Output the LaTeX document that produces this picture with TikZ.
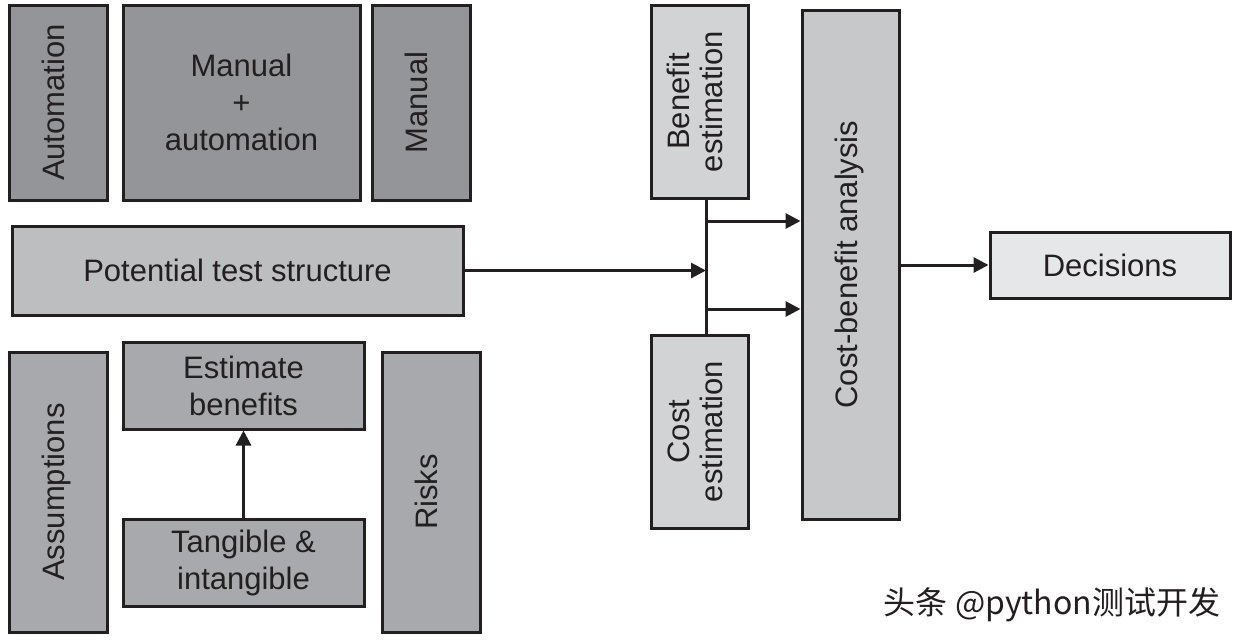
\documentclass[tikz,border=0pt]{standalone}
\usepackage{fontspec}
\setmainfont{Liberation Sans}
\newfontfamily\cjk{Noto Sans CJK SC}
\usetikzlibrary{arrows.meta}

\definecolor{edge}{HTML}{231F20}
\definecolor{topgray}{HTML}{939598}
\definecolor{lowgray}{HTML}{A7A9AC}
\definecolor{midgray}{HTML}{BCBEC0}
\definecolor{estgray}{HTML}{D1D3D4}
\definecolor{cbagray}{HTML}{C7C8CA}
\definecolor{decgray}{HTML}{E6E7E8}

\newcommand{\uptext}[1]{\rotatebox{90}{\renewcommand\arraystretch{0.9}\begin{tabular}{@{}c@{}}#1\end{tabular}}}

\tikzset{
  box/.style={draw=edge, line width=1.5pt, inner sep=0pt, align=center,
    font=\fontsize{15.5}{18.5}\selectfont, text=edge},
  wire/.style={draw=edge, line width=1.5pt},
  link/.style={wire, -{Triangle[length=7.5pt,width=7.5pt]}},
}

\begin{document}
\begin{tikzpicture}[x=0.5pt, y=-0.5pt]
  \useasboundingbox (0,0) rectangle (1240,639);

  % test approach
  \node[box, fill=topgray, minimum width=49pt, minimum height=97.5pt] (automation) at (58,102.5) {\uptext{Automation}};
  \node[box, fill=topgray, minimum width=118.5pt, minimum height=97.5pt] (mixed) at (241.5,102.5) {Manual\\+\\automation};
  \node[box, fill=topgray, minimum width=49pt, minimum height=97.5pt] (manual) at (421,102.5) {\uptext{Manual}};

  \node[box, fill=midgray, minimum width=225.5pt, minimum height=44.5pt] (potential) at (237.5,270.5) {Potential test structure};

  % inputs
  \node[box, fill=lowgray, minimum width=49pt, minimum height=140pt] (assumptions) at (58,492) {\uptext{Assumptions}};
  \node[box, fill=lowgray, minimum width=120.5pt, minimum height=43.5pt] (estimate) at (243.5,385.5) {Estimate\\benefits};
  \node[box, fill=lowgray, minimum width=120.5pt, minimum height=43.5pt] (tangible) at (243.5,562.5) {Tangible \&\\intangible};
  \node[box, fill=lowgray, minimum width=49pt, minimum height=140pt] (risks) at (431,492) {\uptext{Risks}};

  % analysis
  \node[box, fill=estgray, minimum width=48.5pt, minimum height=96.5pt] (benefit) at (699.5,101.5) {\uptext{Benefit\\estimation}};
  \node[box, fill=estgray, minimum width=48.5pt, minimum height=96.5pt] (cost) at (699.5,431.5) {\uptext{Cost\\estimation}};
  \node[box, fill=cbagray, minimum width=48.5pt, minimum height=254.5pt] (cba) at (850.5,264.5) {\uptext{Cost-benefit analysis}};
  \node[box, fill=decgray, minimum width=120pt, minimum height=33pt] (decisions) at (1110,265) {Decisions};

  \coordinate (bus) at (706,270);
  \coordinate (upper) at (706,221);
  \coordinate (lower) at (706,309);

  \draw[wire] (benefit.south -| bus) -- (cost.north -| bus);
  \draw[link] (potential.east) -- (potential.east -| bus);
  \draw[link] (upper) -- (upper -| cba.west);
  \draw[link] (lower) -- (lower -| cba.west);
  \draw[link] (cba.east |- decisions) -- (decisions.west);
  \draw[link] (tangible) -- (estimate);

  \node[font=\cjk\fontsize{16}{16}\selectfont, text=edge] (mark) at (1052,605) {头条 @python测试开发};
\end{tikzpicture}
\end{document}
